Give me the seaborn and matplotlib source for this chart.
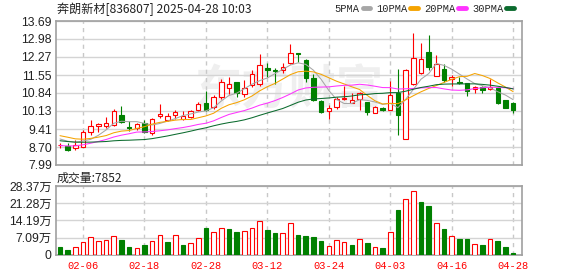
"""Daily K-line for 奔朗新材 with moving averages and volume."""
import numpy as np
import pandas as pd
import matplotlib
matplotlib.use("Agg")
import matplotlib.pyplot as plt
from matplotlib.lines import Line2D
import seaborn as sns

# trading days shown (holidays removed)
holidays = pd.to_datetime(["2025-01-28", "2025-01-29", "2025-01-30", "2025-01-31",
                           "2025-02-03", "2025-02-04", "2025-04-04"])
days = [d for d in pd.bdate_range("2025-01-24", "2025-04-28") if d not in holidays]
date_labels = [d.strftime("%m-%d") for d in days]
tick_dates = ["02-06", "02-18", "02-28", "03-12", "03-24", "04-03", "04-16", "04-28"]

open_ = [8.77, 8.75, 8.66, 8.70, 9.30, 9.53, 9.53, 9.56, 9.96, 9.51,
         9.45, 9.64, 9.25, 9.92, 9.79, 9.95, 9.82, 9.90, 10.16, 10.45,
         10.29, 10.68, 11.04, 11.27, 10.79, 11.14, 11.20, 11.81, 11.75, 11.75,
         12.04, 12.42, 12.15, 11.44, 10.52, 10.12, 10.29, 10.61, 10.46, 10.59,
         10.50, 10.03, 10.23, 10.18, 10.84, 9.02, 11.18, 11.63, 12.46, 11.53,
         11.79, 11.40, 11.27, 11.23, 11.00, 11.07, 11.00, 11.04, 10.55, 10.45]
high = [8.88, 8.86, 8.96, 9.38, 9.77, 9.64, 9.90, 10.21, 10.33, 9.73,
        9.64, 9.79, 9.86, 10.39, 10.03, 10.18, 10.13, 10.17, 10.47, 10.92,
        10.75, 11.40, 11.49, 11.29, 11.36, 11.75, 12.37, 12.01, 11.81, 12.01,
        12.76, 12.44, 12.18, 11.59, 10.55, 10.36, 10.70, 11.12, 10.85, 10.88,
        10.50, 10.31, 10.29, 11.33, 11.79, 11.80, 13.22, 12.83, 13.12, 12.35,
        11.98, 11.57, 11.49, 11.24, 11.10, 11.10, 11.40, 11.07, 10.58, 10.48]
low = [8.68, 8.53, 8.60, 8.70, 9.18, 9.31, 9.47, 9.53, 9.64, 9.35,
       9.38, 9.27, 9.18, 9.87, 9.74, 9.83, 9.79, 9.87, 10.13, 10.12,
       10.22, 10.61, 10.81, 10.68, 10.68, 11.08, 11.10, 11.46, 11.20, 11.62,
       11.98, 12.05, 11.27, 10.52, 10.03, 9.81, 10.20, 10.58, 10.43, 10.16,
       9.96, 10.03, 10.13, 10.16, 9.18, 9.02, 11.17, 11.59, 11.75, 11.50,
       11.27, 11.10, 11.20, 10.71, 10.85, 10.85, 10.96, 10.42, 10.26, 10.06]
close = [8.80, 8.60, 8.80, 9.30, 9.53, 9.60, 9.66, 10.12, 9.70, 9.44,
         9.61, 9.31, 9.81, 10.00, 9.92, 10.08, 9.92, 10.12, 10.39, 10.16,
         10.68, 11.27, 11.21, 10.84, 11.04, 11.59, 11.96, 11.75, 11.70, 11.88,
         12.44, 12.40, 11.44, 10.55, 10.07, 10.25, 10.60, 10.65, 10.56, 10.83,
         10.10, 10.29, 10.16, 10.78, 9.96, 11.75, 12.24, 12.20, 11.88, 11.98,
         11.36, 11.49, 11.23, 10.91, 11.07, 10.94, 11.07, 10.45, 10.26, 10.16]
# closes before the first visible day, needed for the averages
prior_close = [9.55, 9.50, 9.42, 9.38, 9.30, 9.25, 9.28, 9.20, 9.22, 9.20,
               8.95, 8.70, 8.45, 8.30, 8.20, 8.10, 8.15, 8.25, 8.30, 8.30,
               9.20, 9.45, 9.45, 9.20, 9.10, 9.05, 9.00, 9.05, 9.20]
# volume in 万 shares
volume = [3.1, 1.9, 3.4, 5.5, 7.4, 5.9, 6.3, 7.8, 6.3, 3.4,
          2.9, 4.2, 5.9, 8.2, 5.5, 8.2, 4.2, 4.9, 7.0, 11.2,
          9.4, 11.1, 10.8, 9.5, 9.8, 11.1, 13.9, 10.4, 9.1, 9.0,
          13.1, 8.3, 7.9, 7.5, 5.9, 3.8, 6.3, 5.3, 4.2, 6.7,
          5.0, 3.3, 2.7, 9.5, 18.6, 22.9, 26.2, 21.8, 20.2, 13.1,
          10.5, 7.9, 6.4, 6.7, 4.6, 4.2, 6.5, 5.9, 3.1, 0.7852]

price_ticks = [7.99, 8.70, 9.41, 10.13, 10.84, 11.55, 12.27, 12.98, 13.69]
vol_ticks = [0, 7.09, 14.19, 21.28, 28.37]
vol_labels = ["0", "7.09万", "14.19万", "21.28万", "28.37万"]
ma_windows = [5, 10, 20, 30]
ma_colors = ["#a6a6a6", "#f5a300", "#ff33ff", "#0b6b2e"]

RED = "#ff0000"
GREEN = "#008000"
GRID = "#d4d4d4"
SPINE = "#a0a0a0"

sns.set_theme(style="white")
plt.rcParams["font.family"] = ["Liberation Sans", "Noto Sans CJK SC"]

df = pd.DataFrame({"date": date_labels, "open": open_, "high": high,
                   "low": low, "close": close, "volume": volume})
df["x"] = np.arange(len(df))
all_close = pd.Series(prior_close + close)
for n in ma_windows:
    df[f"ma{n}"] = all_close.rolling(n).mean().iloc[len(prior_close):].to_numpy()
prev_close = all_close.shift(1).iloc[len(prior_close):].to_numpy()

fig = plt.figure(figsize=(5.78, 2.76), dpi=100)
ax_p = fig.add_axes([0.0969, 0.4022, 0.8062, 0.5217])
ax_v = fig.add_axes([0.0969, 0.0761, 0.8062, 0.25], sharex=ax_p)

# faint watermark
ax_p.text(0.5, 0.52, "东方财富", transform=ax_p.transAxes, ha="center", va="center",
          fontsize=34, color="#efefef", family=["Noto Sans CJK SC"], fontweight="bold", zorder=0)

# candles
w = 0.58
lw = 0.8
up = df["close"] >= df["open"]
u, d = df[up], df[~up]
ax_p.vlines(u["x"], np.maximum(u["open"], u["close"]), u["high"], color=RED, lw=lw, zorder=2)
ax_p.vlines(u["x"], u["low"], np.minimum(u["open"], u["close"]), color=RED, lw=lw, zorder=2)
ax_p.bar(u["x"], np.maximum(u["close"] - u["open"], 0.015), bottom=u["open"], width=w,
         facecolor="white", edgecolor=RED, lw=lw, zorder=3)
ax_p.vlines(d["x"], d["low"], d["high"], color=GREEN, lw=lw, zorder=2)
ax_p.bar(d["x"], np.maximum(d["open"] - d["close"], 0.015), bottom=d["close"], width=w,
         facecolor=GREEN, edgecolor=GREEN, lw=lw, zorder=3)

# moving averages
handles = []
for n, col in zip(ma_windows, ma_colors):
    sns.lineplot(data=df, x="x", y=f"ma{n}", ax=ax_p, color=col, linewidth=0.75, zorder=4)
    handles.append(Line2D([0], [0], color=col, lw=3.5))

# volume
vup = df["close"].to_numpy() >= prev_close
vu, vd = df[vup], df[~vup]
ax_v.bar(vu["x"], vu["volume"], width=0.6, facecolor="white", edgecolor=RED, lw=lw, zorder=3)
ax_v.bar(vd["x"], vd["volume"], width=0.6, facecolor=GREEN, edgecolor=GREEN, lw=lw, zorder=3)

tick_pos = [date_labels.index(t) for t in tick_dates]
for ax in (ax_p, ax_v):
    ax.set_xlim(-0.52, 60.15)
    ax.set_xticks(tick_pos)
    ax.set_xlabel("")
    ax.set_ylabel("")
    ax.yaxis.grid(True, color=GRID, lw=1, ls="-", zorder=0)
    ax.xaxis.grid(True, color="#c8c8c8", lw=1, ls=(0, (3, 3)), zorder=0)
    ax.set_axisbelow(True)
    for s in ax.spines.values():
        s.set_color(SPINE)
        s.set_linewidth(1.2)
    ax.tick_params(axis="both", length=0, labelsize=8.8, colors="#222222", pad=3)

ax_p.set_ylim(price_ticks[0], price_ticks[-1])
ax_p.set_yticks(price_ticks)
ax_p.set_yticklabels([f"{v:.2f}" for v in price_ticks])
ax_p.tick_params(axis="x", labelbottom=False)

ax_v.set_ylim(0, vol_ticks[-1])
ax_v.set_yticks(vol_ticks)
ax_v.set_yticklabels(vol_labels)
ax_v.set_xticklabels(tick_dates)
ax_v.tick_params(axis="x", colors=RED, labelsize=7.5, pad=4)
for lab in ax_v.get_xticklabels():
    lab.set_family(["Liberation Mono"])

fig.text(57 / 578, 0.967, "奔朗新材[836807] 2025-04-28 10:03", ha="left", va="center",
         fontsize=8.7, color="#222222", family=["Noto Sans CJK SC"])
fig.text(57 / 578, 0.355, "成交量:7852", ha="left", va="center",
         fontsize=8.6, color="#222222", family=["Noto Sans CJK SC"])
fig.legend(handles, [f"{n}PMA" for n in ma_windows], loc="center",
           bbox_to_anchor=(424 / 578, 0.967), ncol=4, frameon=False,
           markerfirst=False, handlelength=0.7, handletextpad=0.3,
           columnspacing=0.6, prop={"family": "Liberation Mono", "size": 7.5})

fig.savefig("out.png", dpi=100)
